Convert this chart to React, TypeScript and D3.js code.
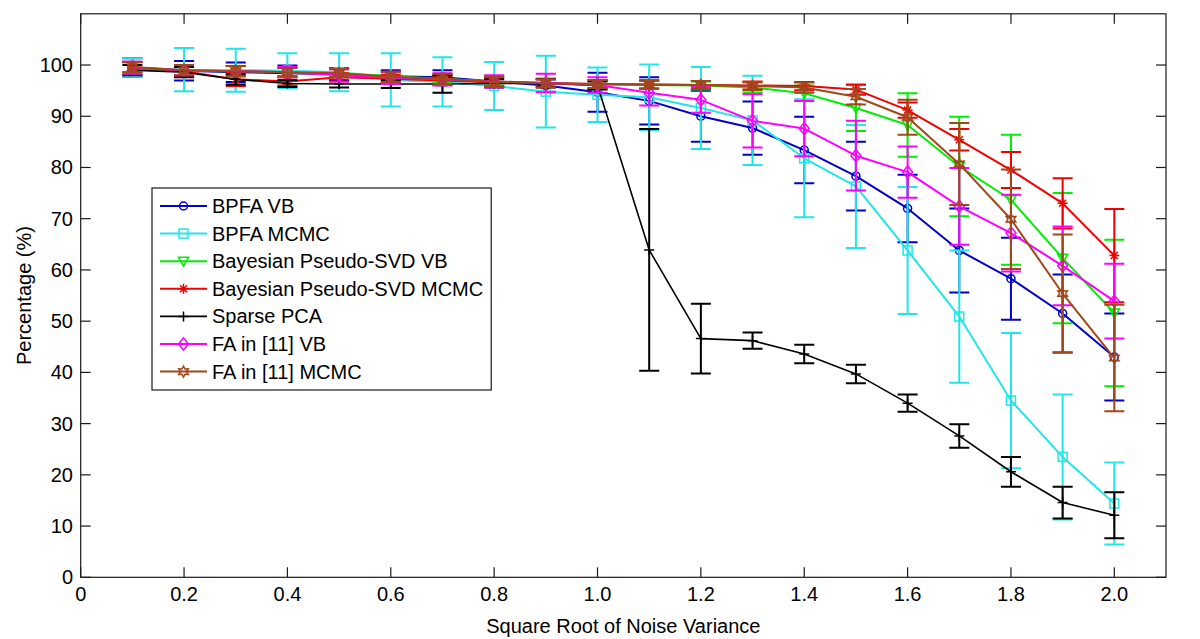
import { useEffect, useRef } from 'react';
import * as d3 from 'd3';

// noise levels (square root of noise variance)
const X_VALUES = [0.1, 0.2, 0.3, 0.4, 0.5, 0.6, 0.7, 0.8, 0.9, 1.0, 1.1, 1.2, 1.3, 1.4, 1.5, 1.6, 1.7, 1.8, 1.9, 2.0];

const BPFA_VB_MEAN = [99.5, 98.9, 98.6, 98.4, 98.2, 97.8, 97.6, 96.8, 96.0, 94.7, 93.0, 90.0, 87.7, 83.4, 78.3, 72.0, 63.8, 58.3, 51.5, 43.0];
const BPFA_VB_ERR = [1.8, 1.9, 1.9, 1.5, 1.2, 1.2, 1.4, 1.0, 1.2, 3.8, 4.6, 5.0, 5.2, 6.5, 6.7, 6.6, 8.2, 8.0, 7.6, 8.5];

const BPFA_MCMC_MEAN = [99.5, 99.1, 99.0, 98.9, 98.6, 97.1, 96.7, 95.9, 94.8, 94.2, 93.7, 91.6, 89.2, 81.8, 76.3, 63.8, 50.9, 34.5, 23.5, 14.4];
const BPFA_MCMC_ERR = [1.8, 4.2, 4.2, 3.4, 3.7, 5.2, 4.8, 4.7, 7.0, 5.3, 6.4, 8.0, 8.7, 11.5, 12.0, 12.4, 12.9, 13.2, 12.2, 8.0];

const PSVD_VB_MEAN = [99.3, 98.9, 98.8, 98.6, 98.5, 97.8, 97.3, 96.8, 96.5, 96.2, 96.1, 96.0, 95.6, 94.5, 91.6, 88.3, 80.2, 73.7, 62.3, 51.6];
const PSVD_VB_ERR = [1.2, 1.0, 1.0, 0.8, 0.8, 0.8, 0.8, 0.8, 0.8, 0.8, 0.8, 0.8, 1.0, 1.5, 4.5, 6.2, 9.7, 12.7, 12.7, 14.3];

const PSVD_MCMC_MEAN = [99.6, 98.8, 97.2, 96.8, 97.6, 97.3, 97.0, 96.6, 96.5, 96.3, 96.2, 96.1, 96.0, 95.9, 95.2, 91.2, 85.4, 79.5, 73.0, 62.8];
const PSVD_MCMC_ERR = [1.0, 1.0, 1.3, 0.8, 0.8, 0.8, 0.8, 0.8, 0.8, 0.8, 0.8, 0.8, 0.8, 0.8, 1.0, 1.5, 2.1, 3.5, 4.9, 9.1];

const SPCA_MEAN = [99.0, 98.6, 97.2, 96.4, 96.3, 96.3, 96.3, 96.4, 96.4, 96.0, 63.9, 46.6, 46.2, 43.6, 39.7, 34.0, 27.6, 20.6, 14.6, 12.1];
const SPCA_ERR = [1.0, 1.0, 1.0, 0.7, 0.7, 0.8, 1.7, 0.8, 0.8, 0.8, 23.6, 6.8, 1.6, 1.8, 1.8, 1.7, 2.3, 2.9, 3.1, 4.5];

const FA_VB_MEAN = [99.5, 99.0, 98.8, 98.6, 98.0, 97.5, 97.2, 96.8, 96.5, 96.1, 94.6, 93.2, 89.1, 87.6, 82.3, 79.1, 72.4, 67.2, 60.8, 53.9];
const FA_VB_ERR = [1.2, 1.0, 1.0, 1.0, 1.2, 1.2, 1.2, 1.2, 1.8, 1.5, 2.5, 2.5, 5.2, 5.4, 6.8, 5.0, 7.5, 7.5, 7.7, 7.3];

const FA_MCMC_MEAN = [99.6, 99.0, 98.8, 98.6, 98.4, 97.7, 97.3, 96.7, 96.4, 96.3, 96.2, 96.1, 95.9, 95.6, 93.8, 89.8, 80.7, 69.9, 55.4, 42.8];
const FA_MCMC_ERR = [1.0, 1.0, 1.0, 0.8, 0.8, 1.0, 1.0, 1.0, 0.8, 0.8, 0.8, 0.8, 0.8, 1.0, 1.5, 3.4, 8.0, 9.7, 11.5, 10.4];

const SERIES_NAMES = [
  'BPFA VB',
  'BPFA MCMC',
  'Bayesian Pseudo-SVD VB',
  'Bayesian Pseudo-SVD MCMC',
  'Sparse PCA',
  'FA in [11] VB',
  'FA in [11] MCMC',
];

const X_TICKS = [0, 0.2, 0.4, 0.6, 0.8, 1.0, 1.2, 1.4, 1.6, 1.8, 2.0];
const X_TICK_LABELS = ['0', '0.2', '0.4', '0.6', '0.8', '1.0', '1.2', '1.4', '1.6', '1.8', '2.0'];
const Y_TICKS = [0, 10, 20, 30, 40, 50, 60, 70, 80, 90, 100];

const X_LABEL = 'Square Root of Noise Variance';
const Y_LABEL = 'Percentage (%)';

const W = 1200;
const H = 639;
const FONT = '"Liberation Sans", Arial, sans-serif';

type Style = { color: string; marker: string; width: number };

const STYLES: Style[] = [
  { color: '#0000c8', marker: 'circle', width: 2 },
  { color: '#22e6e6', marker: 'square', width: 2 },
  { color: '#00ee00', marker: 'triangle', width: 2 },
  { color: '#f00000', marker: 'star', width: 2 },
  { color: '#000000', marker: 'plus', width: 1.6 },
  { color: '#ff00ff', marker: 'diamond', width: 2 },
  { color: '#a0481c', marker: 'hexagram', width: 2 },
];

function drawMarker(g: any, type: string, x: number, y: number, color: string) {
  const m = g.append('g').attr('transform', `translate(${x},${y})`)
    .attr('fill', 'none').attr('stroke', color).attr('stroke-width', 1.5);
  if (type === 'circle') {
    m.append('circle').attr('r', 4);
  } else if (type === 'square') {
    m.append('rect').attr('x', -4.5).attr('y', -4.5).attr('width', 9).attr('height', 9);
  } else if (type === 'triangle') {
    m.append('path').attr('d', 'M-5,-4L5,-4L0,5Z');
  } else if (type === 'diamond') {
    m.append('path').attr('d', 'M0,-6L5,0L0,6L-5,0Z');
  } else if (type === 'plus') {
    m.append('path').attr('d', 'M-5,0H5M0,-5V5');
  } else if (type === 'star') {
    m.append('path').attr('d', 'M-5,0H5M0,-5V5M-3.5,-3.5L3.5,3.5M-3.5,3.5L3.5,-3.5');
  } else if (type === 'hexagram') {
    const pts = d3.range(12).map((i) => {
      const a = (Math.PI / 6) * i - Math.PI / 2;
      const r = i % 2 === 0 ? 5.5 : 3;
      return [r * Math.cos(a), r * Math.sin(a)];
    });
    m.append('path').attr('d', 'M' + pts.map((p) => p.join(',')).join('L') + 'Z');
  }
}

export default function App() {
  const svgRef = useRef<SVGSVGElement>(null);

  useEffect(() => {
    if (!svgRef.current) return;
    const svg = d3.select(svgRef.current);
    svg.selectAll('*').remove();

    const left = 80.7;
    const right = 1166;
    const top = 13.8;
    const bottom = 577.3;

    const x = d3.scaleLinear().domain([0, 2.1]).range([left, right]);
    const y = d3.scaleLinear().domain([0, 110]).range([bottom, top]);

    svg.append('rect').attr('width', W).attr('height', H).attr('fill', '#fff');

    const means = [BPFA_VB_MEAN, BPFA_MCMC_MEAN, PSVD_VB_MEAN, PSVD_MCMC_MEAN, SPCA_MEAN, FA_VB_MEAN, FA_MCMC_MEAN];
    const errs = [BPFA_VB_ERR, BPFA_MCMC_ERR, PSVD_VB_ERR, PSVD_MCMC_ERR, SPCA_ERR, FA_VB_ERR, FA_MCMC_ERR];

    const plot = svg.append('g');
    const line = d3.line<number>().x((_, i) => x(X_VALUES[i])).y((d) => y(d));
    const capW = 10;

    means.forEach((mean, s) => {
      const st = STYLES[s];
      const g = plot.append('g');
      // error bars
      mean.forEach((v, i) => {
        const cx = x(X_VALUES[i]);
        const lo = y(v - errs[s][i]);
        const hi = y(v + errs[s][i]);
        g.append('path')
          .attr('d', `M${cx},${lo}V${hi}M${cx - capW},${lo}H${cx + capW}M${cx - capW},${hi}H${cx + capW}`)
          .attr('fill', 'none')
          .attr('stroke', st.color)
          .attr('stroke-width', 2);
      });
      g.append('path')
        .datum(mean)
        .attr('d', line)
        .attr('fill', 'none')
        .attr('stroke', st.color)
        .attr('stroke-width', st.width)
        .attr('stroke-linejoin', 'round');
      mean.forEach((v, i) => drawMarker(g, st.marker, x(X_VALUES[i]), y(v), st.color));
    });

    // axes box
    const axes = svg.append('g').attr('stroke', '#1a1a1a').attr('stroke-width', 1.2);
    axes.append('rect')
      .attr('x', left).attr('y', top)
      .attr('width', right - left).attr('height', bottom - top)
      .attr('fill', 'none');

    const tickLen = 10;
    X_TICKS.forEach((t, i) => {
      const tx = x(t);
      axes.append('line').attr('x1', tx).attr('x2', tx).attr('y1', bottom).attr('y2', bottom - tickLen);
      axes.append('line').attr('x1', tx).attr('x2', tx).attr('y1', top).attr('y2', top + tickLen);
      svg.append('text')
        .attr('x', tx).attr('y', 601)
        .attr('text-anchor', 'middle')
        .attr('font-family', FONT).attr('font-size', 20)
        .attr('fill', '#000')
        .text(X_TICK_LABELS[i]);
    });

    Y_TICKS.forEach((t) => {
      const ty = y(t);
      axes.append('line').attr('x1', left).attr('x2', left + tickLen).attr('y1', ty).attr('y2', ty);
      axes.append('line').attr('x1', right).attr('x2', right - tickLen).attr('y1', ty).attr('y2', ty);
      svg.append('text')
        .attr('x', 73).attr('y', ty)
        .attr('text-anchor', 'end')
        .attr('dominant-baseline', 'central')
        .attr('font-family', FONT).attr('font-size', 20)
        .attr('fill', '#000')
        .text(t);
    });

    svg.append('text')
      .attr('x', (left + right) / 2).attr('y', 633)
      .attr('text-anchor', 'middle')
      .attr('font-family', FONT).attr('font-size', 20)
      .text(X_LABEL);

    svg.append('text')
      .attr('transform', `translate(31,${(top + bottom) / 2}) rotate(-90)`)
      .attr('text-anchor', 'middle')
      .attr('font-family', FONT).attr('font-size', 20)
      .text(Y_LABEL);

    // legend
    const lg = svg.append('g');
    const lx = 152;
    const ly = 188;
    const rowH = 27.6;
    const box = lg.append('rect')
      .attr('x', lx).attr('y', ly)
      .attr('height', 202)
      .attr('fill', '#fff')
      .attr('stroke', '#1a1a1a')
      .attr('stroke-width', 1.2);
    let maxW = 0;
    SERIES_NAMES.forEach((name, i) => {
      const st = STYLES[i];
      const ry = ly + 18 + i * rowH;
      lg.append('line')
        .attr('x1', lx + 8).attr('x2', lx + 55)
        .attr('y1', ry).attr('y2', ry)
        .attr('stroke', st.color).attr('stroke-width', st.width);
      drawMarker(lg, st.marker, lx + 31.5, ry, st.color);
      const t = lg.append('text')
        .attr('x', lx + 60).attr('y', ry)
        .attr('dominant-baseline', 'central')
        .attr('font-family', FONT).attr('font-size', 20)
        .text(name);
      const node = t.node() as SVGTextElement;
      maxW = Math.max(maxW, node.getComputedTextLength());
    });
    box.attr('width', 60 + maxW + 8);
  }, []);

  return (
    <svg
      ref={svgRef}
      width={W}
      height={H}
      style={{ position: 'absolute', left: 0, top: 0, display: 'block' }}
    />
  );
}
